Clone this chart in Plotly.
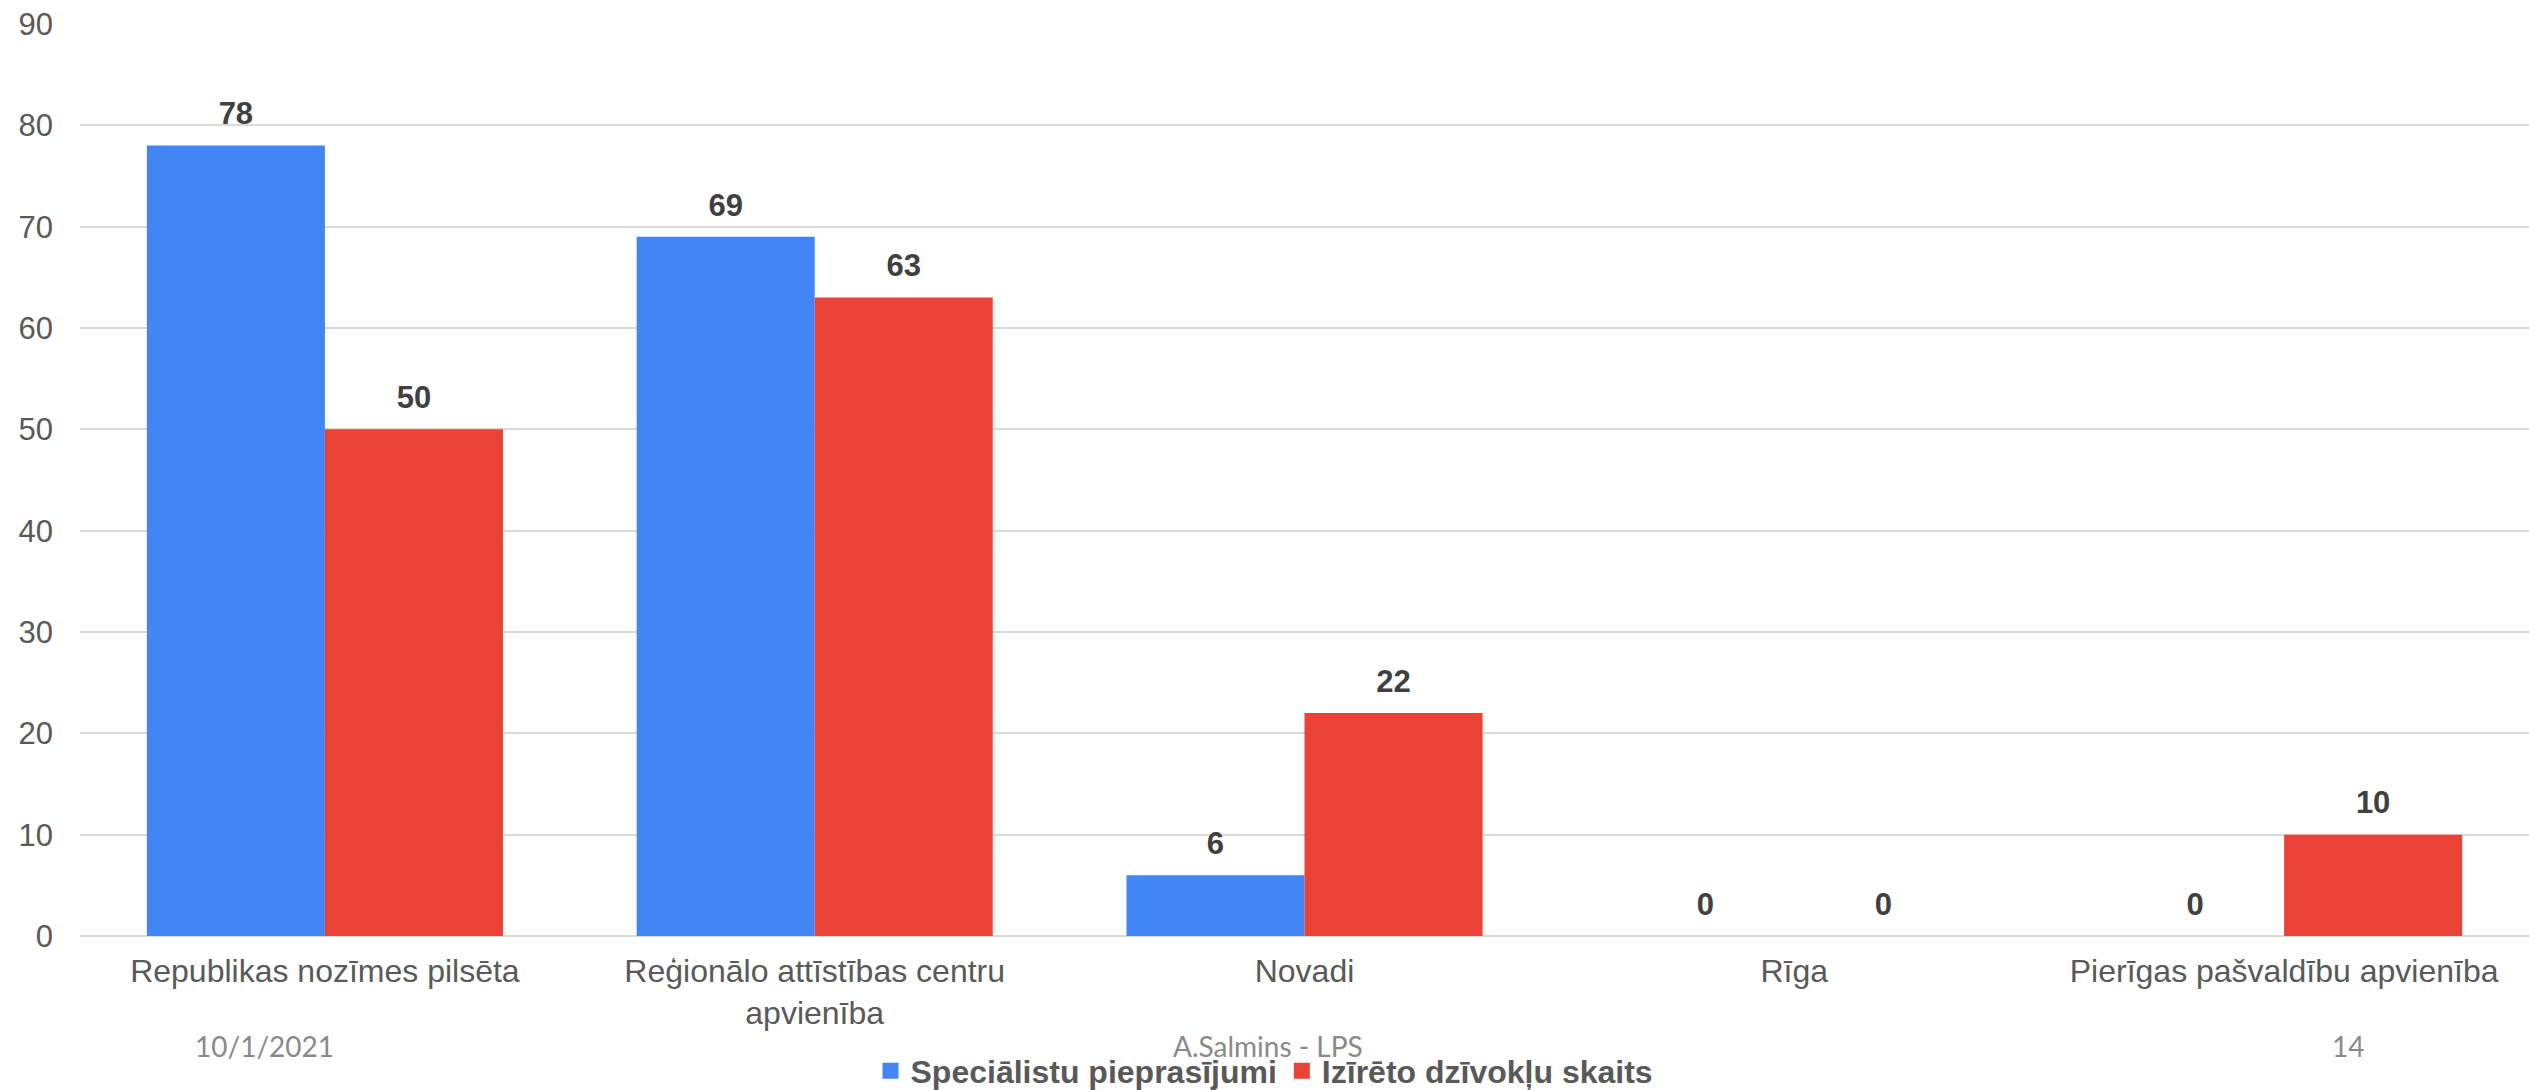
import plotly.graph_objects as go

categories = [
    "Republikas nozīmes pilsēta",
    "Reģionālo attīstības centru<br>apvienība",
    "Novadi",
    "Rīga",
    "Pierīgas pašvaldību apvienība",
]
series_names = ["Speciālistu pieprasījumi", "Izīrēto dzīvokļu skaits"]
specialisti = [78, 69, 6, 0, 0]
dzivokli = [50, 63, 22, 0, 10]
colors = ["#4285F4", "#EA4335"]
y_ticks = [0, 10, 20, 30, 40, 50, 60, 70, 80, 90]
footer_left = "10/1/2021"
footer_mid = "A.Salmins - LPS"
footer_right = "14"

W, H = 2529, 1090
GAP = 0.273
FONT = "Liberation Sans, Arial, sans-serif"

fig = go.Figure()
for name, vals, col in zip(series_names, [specialisti, dzivokli], colors):
    fig.add_trace(go.Bar(
        x=categories, y=vals, name=name, marker=dict(color=col, line=dict(width=0)),
        hoverinfo="skip", showlegend=False,
    ))
for name, vals in zip(series_names, [specialisti, dzivokli]):
    fig.add_trace(go.Scatter(
        x=categories, y=vals, mode="markers+text", showlegend=False,
        marker=dict(size=20, opacity=0),
        text=[f"<b>{v}</b>" for v in vals], textposition="top center",
        textfont=dict(family=FONT, size=31, color="#404040"),
        cliponaxis=False, hoverinfo="skip",
    ))
# legend entries with larger square swatches (on a hidden axis pair so they don't affect grouping)
for name, col in zip(series_names, colors):
    fig.add_trace(go.Scatter(
        x=[None], y=[None], mode="markers", name=name, xaxis="x2", yaxis="y2",
        marker=dict(symbol="square", size=16, color=col),
        hoverinfo="skip",
    ))

for txt, xp in [(footer_left, 264), (footer_mid, 1268), (footer_right, 2348)]:
    fig.add_annotation(
        text=txt, xref="paper", yref="paper",
        x=(xp - 80) / (W - 80), y=(936 - 1046) / 912,
        xanchor="center", yanchor="middle", showarrow=False,
        font=dict(family="Lato, Carlito, sans-serif", size=28, color="#898989"),
    )

fig.update_layout(
    width=W, height=H,
    margin=dict(l=80, r=0, t=24, b=H - 936),
    paper_bgcolor="white", plot_bgcolor="white",
    barmode="group", bargap=GAP, bargroupgap=0,
    scattermode="group", scattergap=GAP,
    showlegend=True,
    legend=dict(
        orientation="h", xref="container", yref="container",
        x=0.5, y=(H - 1071) / H, xanchor="center", yanchor="middle",
        font=dict(family=FONT, size=32, color="#595959", weight="bold"),
        itemclick=False, itemdoubleclick=False, traceorder="normal",
        itemsizing="trace", itemwidth=30, tracegroupgap=0,
    ),
    xaxis=dict(
        tickfont=dict(family=FONT, size=32, color="#595959"),
        showgrid=False, showline=False, ticks="", ticklabelstandoff=13,
    ),
    yaxis=dict(
        range=[0, 90], tickvals=y_ticks, showgrid=True, gridcolor="#D9D9D9", gridwidth=2,
        zeroline=True, zerolinecolor="#D9D9D9", zerolinewidth=2,
        tickfont=dict(family=FONT, size=31, color="#595959"),
        ticks="", ticklabelstandoff=26, showline=False,
    ),
    xaxis2=dict(overlaying="x", visible=False, range=[0, 1]),
    yaxis2=dict(overlaying="y", visible=False, range=[0, 1]),
)

fig.write_html("out.html")
